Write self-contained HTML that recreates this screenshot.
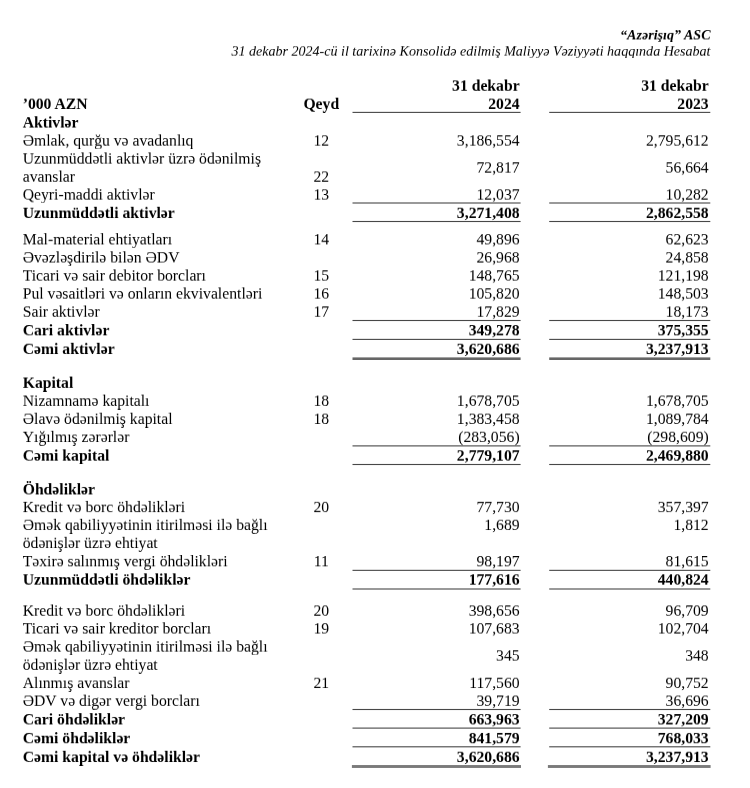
<!DOCTYPE html>
<html><head><meta charset="utf-8"><title>Hesabat</title>
<style>
html,body{margin:0;padding:0;background:#fff;}
body{width:750px;height:788px;position:relative;overflow:hidden;font-family:"Liberation Serif",serif;color:#000;}
.w{position:absolute;left:0;width:750px;height:18px;will-change:transform;font-size:15.7px;line-height:18px;}
.w div{position:absolute;top:0;white-space:nowrap;height:18px;}
.b{font-weight:bold;}
.w .l{left:22.7px;}
.w .n{left:281.3px;width:80px;text-align:center;}
.w .c1{right:230.4px;text-align:right;}
.w .c2{right:41.3px;text-align:right;}
.w.h{font-size:14.05px;line-height:16px;height:16px;font-style:italic;}
.w.h div{right:39.5px;height:16px;text-align:right;}
svg{position:absolute;left:0;top:0;}
</style></head><body>
<div class="w h b" style="top:26px;transform-origin:0 13px;transform:translateY(0.45px) rotate(0.0001deg) scaleY(0.94)"><div>“Azərişıq” ASC</div></div>
<div class="w h" style="top:42px;transform-origin:0 13px;transform:translateY(0.65px) rotate(0.0001deg) scaleY(0.94)"><div>31 dekabr 2024-cü il tarixinə Konsolidə edilmiş Maliyyə Vəziyyəti haqqında Hesabat</div></div>
<div class="w b" style="top:94px;transform-origin:0 14px;transform:translateY(0.95px) rotate(0.0001deg) scaleY(0.94)"><div class="l">’000 AZN</div><div class="n">Qeyd</div><div class="c1">2024</div><div class="c2">2023</div></div>
<div class="w b" style="top:113px;transform-origin:0 14px;transform:translateY(0.55px) rotate(0.0001deg) scaleY(0.94)"><div class="l">Aktivlər</div></div>
<div class="w" style="top:131px;transform-origin:0 14px;transform:translateY(0.65px) rotate(0.0001deg) scaleY(0.94)"><div class="l">Əmlak, qurğu və avadanlıq</div><div class="n">12</div><div class="c1">3,186,554</div><div class="c2">2,795,612</div></div>
<div class="w" style="top:149px;transform-origin:0 14px;transform:translateY(0.65px) rotate(0.0001deg) scaleY(0.94)"><div class="l">Uzunmüddətli aktivlər üzrə ödənilmiş</div></div>
<div class="w" style="top:167px;transform-origin:0 14px;transform:translateY(0.75px) rotate(0.0001deg) scaleY(0.94)"><div class="l">avanslar</div><div class="n">22</div></div>
<div class="w" style="top:185px;transform-origin:0 14px;transform:translateY(0.65px) rotate(0.0001deg) scaleY(0.94)"><div class="l">Qeyri-maddi aktivlər</div><div class="n">13</div><div class="c1">12,037</div><div class="c2">10,282</div></div>
<div class="w b" style="top:204px;transform-origin:0 14px;transform:translateY(0.05px) rotate(0.0001deg) scaleY(0.94)"><div class="l">Uzunmüddətli aktivlər</div><div class="c1">3,271,408</div><div class="c2">2,862,558</div></div>
<div class="w" style="top:230px;transform-origin:0 14px;transform:translateY(0.45px) rotate(0.0001deg) scaleY(0.94)"><div class="l">Mal-material ehtiyatları</div><div class="n">14</div><div class="c1">49,896</div><div class="c2">62,623</div></div>
<div class="w" style="top:248px;transform-origin:0 14px;transform:translateY(0.55px) rotate(0.0001deg) scaleY(0.94)"><div class="l">Əvəzləşdirilə bilən ƏDV</div><div class="c1">26,968</div><div class="c2">24,858</div></div>
<div class="w" style="top:266px;transform-origin:0 14px;transform:translateY(0.65px) rotate(0.0001deg) scaleY(0.94)"><div class="l">Ticari və sair debitor borcları</div><div class="n">15</div><div class="c1">148,765</div><div class="c2">121,198</div></div>
<div class="w" style="top:284px;transform-origin:0 14px;transform:translateY(0.65px) rotate(0.0001deg) scaleY(0.94)"><div class="l">Pul vəsaitləri və onların ekvivalentləri</div><div class="n">16</div><div class="c1">105,820</div><div class="c2">148,503</div></div>
<div class="w" style="top:302px;transform-origin:0 14px;transform:translateY(0.75px) rotate(0.0001deg) scaleY(0.94)"><div class="l">Sair aktivlər</div><div class="n">17</div><div class="c1">17,829</div><div class="c2">18,173</div></div>
<div class="w b" style="top:321px;transform-origin:0 14px;transform:translateY(0.35px) rotate(0.0001deg) scaleY(0.94)"><div class="l">Cari aktivlər</div><div class="c1">349,278</div><div class="c2">375,355</div></div>
<div class="w b" style="top:340px;transform-origin:0 14px;transform:translateY(0.05px) rotate(0.0001deg) scaleY(0.94)"><div class="l">Cəmi aktivlər</div><div class="c1">3,620,686</div><div class="c2">3,237,913</div></div>
<div class="w b" style="top:373px;transform-origin:0 14px;transform:translateY(0.85px) rotate(0.0001deg) scaleY(0.94)"><div class="l">Kapital</div></div>
<div class="w" style="top:391px;transform-origin:0 14px;transform:translateY(0.85px) rotate(0.0001deg) scaleY(0.94)"><div class="l">Nizamnamə kapitalı</div><div class="n">18</div><div class="c1">1,678,705</div><div class="c2">1,678,705</div></div>
<div class="w" style="top:409px;transform-origin:0 14px;transform:translateY(0.95px) rotate(0.0001deg) scaleY(0.94)"><div class="l">Əlavə ödənilmiş kapital</div><div class="n">18</div><div class="c1">1,383,458</div><div class="c2">1,089,784</div></div>
<div class="w" style="top:428px;transform-origin:0 14px;transform:translateY(0.05px) rotate(0.0001deg) scaleY(0.94)"><div class="l">Yığılmış zərərlər</div><div class="c1">(283,056)</div><div class="c2">(298,609)</div></div>
<div class="w b" style="top:446px;transform-origin:0 14px;transform:translateY(0.65px) rotate(0.0001deg) scaleY(0.94)"><div class="l">Cəmi kapital</div><div class="c1">2,779,107</div><div class="c2">2,469,880</div></div>
<div class="w b" style="top:480px;transform-origin:0 14px;transform:translateY(0.45px) rotate(0.0001deg) scaleY(0.94)"><div class="l">Öhdəliklər</div></div>
<div class="w" style="top:498px;transform-origin:0 14px;transform:translateY(0.15px) rotate(0.0001deg) scaleY(0.94)"><div class="l">Kredit və borc öhdəlikləri</div><div class="n">20</div><div class="c1">77,730</div><div class="c2">357,397</div></div>
<div class="w" style="top:516px;transform-origin:0 14px;transform:translateY(0.05px) rotate(0.0001deg) scaleY(0.94)"><div class="l">Əmək qabiliyyətinin itirilməsi ilə bağlı</div><div class="c1">1,689</div><div class="c2">1,812</div></div>
<div class="w" style="top:534px;transform-origin:0 14px;transform:translateY(0.05px) rotate(0.0001deg) scaleY(0.94)"><div class="l">ödənişlər üzrə ehtiyat</div></div>
<div class="w" style="top:552px;transform-origin:0 14px;transform:translateY(0.35px) rotate(0.0001deg) scaleY(0.94)"><div class="l">Təxirə salınmış vergi öhdəlikləri</div><div class="n">11</div><div class="c1">98,197</div><div class="c2">81,615</div></div>
<div class="w b" style="top:570px;transform-origin:0 14px;transform:translateY(0.65px) rotate(0.0001deg) scaleY(0.94)"><div class="l">Uzunmüddətli öhdəliklər</div><div class="c1">177,616</div><div class="c2">440,824</div></div>
<div class="w" style="top:601px;transform-origin:0 14px;transform:translateY(0.75px) rotate(0.0001deg) scaleY(0.94)"><div class="l">Kredit və borc öhdəlikləri</div><div class="n">20</div><div class="c1">398,656</div><div class="c2">96,709</div></div>
<div class="w" style="top:619px;transform-origin:0 14px;transform:translateY(0.55px) rotate(0.0001deg) scaleY(0.94)"><div class="l">Ticari və sair kreditor borcları</div><div class="n">19</div><div class="c1">107,683</div><div class="c2">102,704</div></div>
<div class="w" style="top:637px;transform-origin:0 14px;transform:translateY(0.65px) rotate(0.0001deg) scaleY(0.94)"><div class="l">Əmək qabiliyyətinin itirilməsi ilə bağlı</div></div>
<div class="w" style="top:655px;transform-origin:0 14px;transform:translateY(0.85px) rotate(0.0001deg) scaleY(0.94)"><div class="l">ödənişlər üzrə ehtiyat</div></div>
<div class="w" style="top:674px;transform-origin:0 14px;transform:translateY(0.05px) rotate(0.0001deg) scaleY(0.94)"><div class="l">Alınmış avanslar</div><div class="n">21</div><div class="c1">117,560</div><div class="c2">90,752</div></div>
<div class="w" style="top:691px;transform-origin:0 14px;transform:translateY(0.85px) rotate(0.0001deg) scaleY(0.94)"><div class="l">ƏDV və digər vergi borcları</div><div class="c1">39,719</div><div class="c2">36,696</div></div>
<div class="w b" style="top:710px;transform-origin:0 14px;transform:translateY(0.45px) rotate(0.0001deg) scaleY(0.94)"><div class="l">Cari öhdəliklər</div><div class="c1">663,963</div><div class="c2">327,209</div></div>
<div class="w b" style="top:729px;transform-origin:0 14px;transform:translateY(0.25px) rotate(0.0001deg) scaleY(0.94)"><div class="l">Cəmi öhdəliklər</div><div class="c1">841,579</div><div class="c2">768,033</div></div>
<div class="w b" style="top:748px;transform-origin:0 14px;transform:translateY(0.05px) rotate(0.0001deg) scaleY(0.94)"><div class="l">Cəmi kapital və öhdəliklər</div><div class="c1">3,620,686</div><div class="c2">3,237,913</div></div>
<div class="w b" style="top:76px;transform-origin:0 14px;transform:translateY(0.75px) rotate(0.0001deg) scaleY(0.94)"><div class="c1">31 dekabr</div><div class="c2">31 dekabr</div></div>
<div class="w" style="top:158px;transform-origin:0 14px;transform:translateY(0.65px) rotate(0.0001deg) scaleY(0.94)"><div class="c1">72,817</div><div class="c2">56,664</div></div>
<div class="w" style="top:646px;transform-origin:0 14px;transform:translateY(0.65px) rotate(0.0001deg) scaleY(0.94)"><div class="c1">345</div><div class="c2">348</div></div>
<svg width="750" height="788" viewBox="0 0 750 788">
<rect x="352.5" y="111.85" width="168.1" height="1.1" fill="#484848"/><rect x="549.2" y="111.85" width="161.1" height="1.1" fill="#484848"/>
<rect x="352.5" y="202.45" width="168.1" height="1.1" fill="#484848"/><rect x="549.2" y="202.45" width="161.1" height="1.1" fill="#484848"/>
<rect x="352.5" y="220.95" width="168.1" height="1.1" fill="#484848"/><rect x="549.2" y="220.95" width="161.1" height="1.1" fill="#484848"/>
<rect x="352.5" y="319.95" width="168.1" height="1.1" fill="#484848"/><rect x="549.2" y="319.95" width="161.1" height="1.1" fill="#484848"/>
<rect x="352.5" y="338.85" width="168.1" height="1.1" fill="#484848"/><rect x="549.2" y="338.85" width="161.1" height="1.1" fill="#484848"/>
<rect x="352.5" y="357.40" width="168.1" height="2.6" fill="#666666"/><rect x="549.2" y="357.40" width="161.1" height="2.6" fill="#666666"/>
<rect x="352.5" y="445.35" width="168.1" height="1.1" fill="#484848"/><rect x="549.2" y="445.35" width="161.1" height="1.1" fill="#484848"/>
<rect x="352.5" y="463.95" width="168.1" height="1.1" fill="#484848"/><rect x="549.2" y="463.95" width="161.1" height="1.1" fill="#484848"/>
<rect x="352.5" y="569.80" width="168.1" height="1.1" fill="#484848"/><rect x="549.2" y="569.80" width="161.1" height="1.1" fill="#484848"/>
<rect x="352.5" y="588.45" width="168.1" height="1.1" fill="#484848"/><rect x="549.2" y="588.45" width="161.1" height="1.1" fill="#484848"/>
<rect x="352.5" y="708.95" width="168.1" height="1.1" fill="#484848"/><rect x="549.2" y="708.95" width="161.1" height="1.1" fill="#484848"/>
<rect x="352.5" y="727.55" width="168.1" height="1.1" fill="#484848"/><rect x="549.2" y="727.55" width="161.1" height="1.1" fill="#484848"/>
<rect x="352.5" y="746.25" width="168.1" height="1.1" fill="#484848"/><rect x="549.2" y="746.25" width="161.1" height="1.1" fill="#484848"/>
<rect x="351.9" y="765.05" width="169.1" height="2.9" fill="#7a7a7a"/><rect x="547.9" y="765.05" width="162.7" height="2.9" fill="#7a7a7a"/>
</svg>
</body></html>
